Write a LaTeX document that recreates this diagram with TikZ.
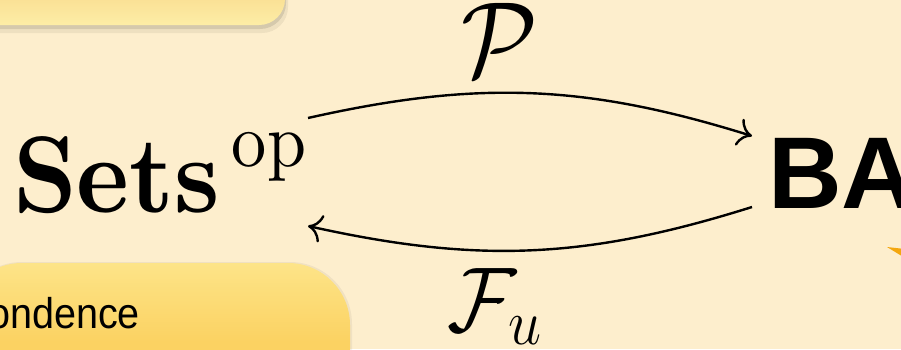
\RequirePackage{fix-cm}
\documentclass[tikz,border=0pt]{standalone}
\usepackage[no-math]{fontspec}
\newfontfamily\arialfont{Liberation Sans}
\DeclareFontShape{OT1}{cmr}{bx}{n}{<->cmbx10}{}
\DeclareFontShape{OT1}{cmr}{m}{n}{<->cmr10}{}
\usepackage{tikz}
\usetikzlibrary{arrows.meta,positioning,calc}
\definecolor{slidebg}{HTML}{FDEECD}
\definecolor{boxtop}{HTML}{F8D98B}
\definecolor{boxedge}{HTML}{FDEDA6}
\definecolor{boxlow}{HTML}{FBD262}
\definecolor{boxlowtop}{HTML}{FDE488}
\definecolor{starorange}{HTML}{F4A70F}
\newcommand{\squeeze}[1]{\scalebox{0.92}[1]{#1}}

\begin{document}
\begin{tikzpicture}[x=1pt,y=1pt,every node/.style={inner sep=0pt,outer sep=0pt},obj/.style={font=\fontsize{107}{120}\selectfont},functor/.style={line width=2.4pt,-{Computer Modern Rightarrow[length=14pt,width=28pt]}},pshadow/.style={fill=black,opacity=#1}]
\useasboundingbox (0,0) rectangle (901,-349);
\clip (0,0) rectangle (901,-349);
\fill[slidebg] (0,0) rectangle (901,-349);
% panels
\fill[pshadow=0.06,rounded corners=26pt] (-40,60) rectangle (288,-33);
\fill[pshadow=0.10,rounded corners=26pt] (-40,60) rectangle (286,-29);
\shade[rounded corners=26pt,top color=boxtop,bottom color=boxedge,middle color=boxtop] (-40,60) rectangle (285,-25);
\fill[pshadow=0.05,rounded corners=62pt] (-40,-262) rectangle (352,-420);
\shade[rounded corners=62pt,top color=boxlowtop,bottom color=boxlow,middle color=boxlow] (-40,-263) rectangle (350,-420);
\node[anchor=base east,font=\arialfont\fontsize{43}{50}\selectfont] (corr) at (140,-328) {\squeeze{ondence}};
% objects
\node[obj,anchor=base west,font=\fontsize{109}{120}\selectfont] (sets) at (13,-212) {\squeeze{$\mathbf{Sets}^{\mkern3mu\mathrm{op}}$}};
\node[anchor=base west,font=\arialfont\bfseries\fontsize{102}{110}\selectfont] (ba) at (768,-208) {BA};
% functors
\node[obj,anchor=base] (powset) at (500,-76) {\squeeze{$\mathcal{P}$}};
\node[anchor=base,font=\fontsize{92}{100}\selectfont] (ultra) at (495,-331) {\squeeze{$\mathcal{F}_u$}};
\draw[functor] ([shift={(295,94)}]sets.base west) to[bend left=15] ([shift={(-16,72)}]ba.base west);
\draw[functor] ([shift={(-16,1)}]ba.base west) to[bend left=15] ([shift={(295,-14)}]sets.base west);
\fill[starorange] (887,-247) -- (905,-249) -- (905,-258) -- cycle;
\end{tikzpicture}
\end{document}
